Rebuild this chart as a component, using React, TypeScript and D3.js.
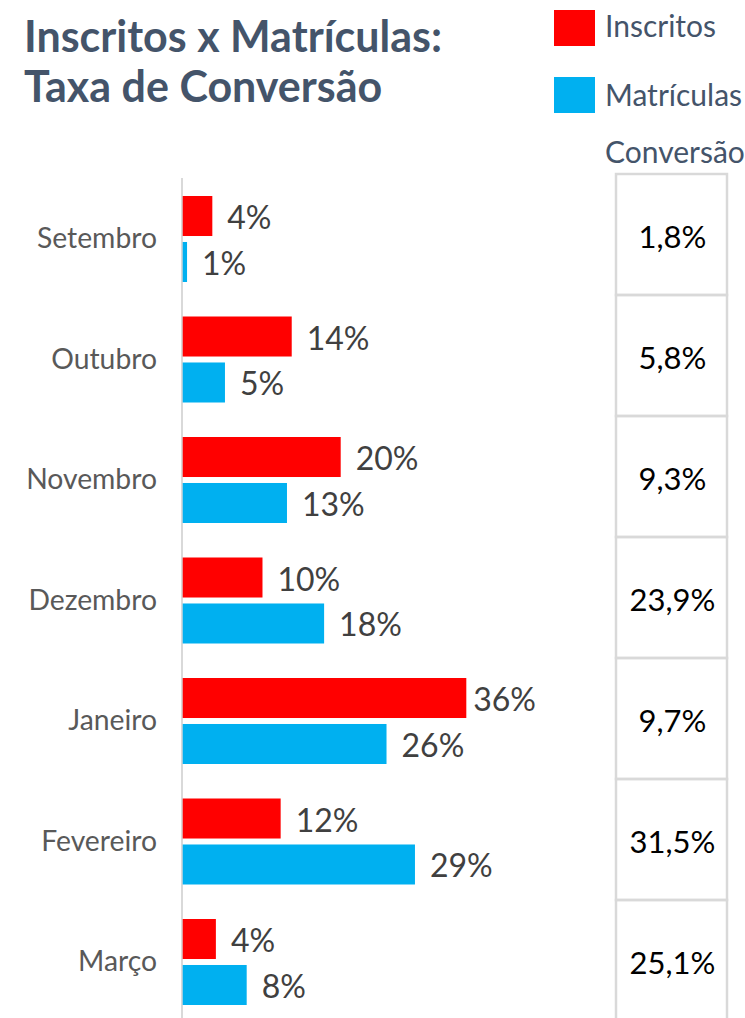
import React from "react";
import * as d3 from "d3";

const categories = ["Setembro", "Outubro", "Novembro", "Dezembro", "Janeiro", "Fevereiro", "Março"];
const inscritos = [3.75, 13.8, 20.0, 10.1, 35.9, 12.4, 4.2];
const matriculas = [0.55, 5.35, 13.2, 17.9, 25.8, 29.4, 8.1];
const conversao = [1.8, 5.8, 9.3, 23.9, 9.7, 31.5, 25.1];
const seriesNames = ["Inscritos", "Matrículas"];
const seriesColors = ["#FF0000", "#00B0F0"];
const titleLines = ["Inscritos x Matrículas:", "Taxa de Conversão"];
const tableHeader = "Conversão";

const W = 745;
const H = 1018;
const FONT = "Lato, 'Open Sans', sans-serif";
const TITLE_COLOR = "#44546A";

export default function App() {
  const x = d3.scaleLinear().domain([0, 45]).range([182.7, 182.7 + 45 * 7.9]);
  const plotRight = 536;
  const y = d3.scaleBand<string>().domain(categories).range([178.75, 178.75 + 7 * 120.5]).padding(0);
  const sub = d3.scaleBand<string>().domain(seriesNames).range([-43, 43]).paddingInner(0.13);
  const rowY = d3.scaleBand<string>().domain(categories).range([174, 174 + 7 * 121]).padding(0);
  const series = [inscritos, matriculas];
  const fmt = (v: number) => Math.round(v) + "%";
  const fmtConv = (v: number) => d3.format(".1f")(v).replace(".", ",") + "%";
  const labelFont = 32;
  const estWidth = (s: string) => s.length * 0.6 * labelFont + 0.2 * labelFont;

  const tableX0 = 616;
  const tableX1 = 727;

  return (
    <svg width={W} height={H} style={{ position: "absolute", left: 0, top: 0, background: "#fff" }} fontFamily={FONT}>
      <rect x={0} y={0} width={W} height={H} fill="#fff" />
      {/* Title */}
      {titleLines.map((t, i) => (
        <text key={t} x={24} y={52 + i * 50} fontSize={43} fontWeight={700} fill={TITLE_COLOR}>
          {t}
        </text>
      ))}
      {/* Legend */}
      {seriesNames.map((s, i) => (
        <g key={s}>
          <rect x={554} y={10 + i * 67} width={41} height={36} fill={seriesColors[i]} />
          <text x={605} y={37 + i * 69} fontSize={30} fill={TITLE_COLOR}>
            {s}
          </text>
        </g>
      ))}
      <text x={605} y={163} fontSize={30} fill={TITLE_COLOR}>
        {tableHeader}
      </text>
      {/* Axis line */}
      <line x1={182} x2={182} y1={178} y2={H} stroke="#D9D9D9" strokeWidth={2} />
      {/* Bars */}
      {categories.map((c, ci) => {
        const cy = (y(c) as number) + y.bandwidth() / 2;
        return (
          <g key={c}>
            <text x={157} y={cy + 9} fontSize={28.3} fill="#595959" textAnchor="end">
              {c}
            </text>
            {seriesNames.map((s, si) => {
              const v = series[si][ci];
              const by = cy + (sub(s) as number);
              const bx = x(0);
              const bw = x(v) - x(0);
              const lbl = fmt(v);
              let lx = x(v) + 15;
              let anchor: "start" | "end" = "start";
              if (lx + estWidth(lbl) > plotRight) {
                lx = plotRight;
                anchor = "end";
              }
              return (
                <g key={s}>
                  <rect x={bx} y={by} width={bw} height={sub.bandwidth()} fill={seriesColors[si]} />
                  <text x={lx} y={by + sub.bandwidth() / 2 + 13} fontSize={labelFont} fill="#404040" textAnchor={anchor}>
                    {lbl}
                  </text>
                </g>
              );
            })}
          </g>
        );
      })}
      {/* Table */}
      {categories.map((c, ci) => {
        const ry = rowY(c) as number;
        return (
          <g key={"t" + c}>
            <rect
              x={tableX0}
              y={ry}
              width={tableX1 - tableX0}
              height={rowY.bandwidth()}
              fill="none"
              stroke="#D9D9D9"
              strokeWidth={2.5}
            />
            <text
              x={(tableX0 + tableX1) / 2 + 1}
              y={ry + rowY.bandwidth() / 2 + 13.5}
              fontSize={31}
              fill="#000"
              textAnchor="middle"
            >
              {fmtConv(conversao[ci])}
            </text>
          </g>
        );
      })}
    </svg>
  );
}
